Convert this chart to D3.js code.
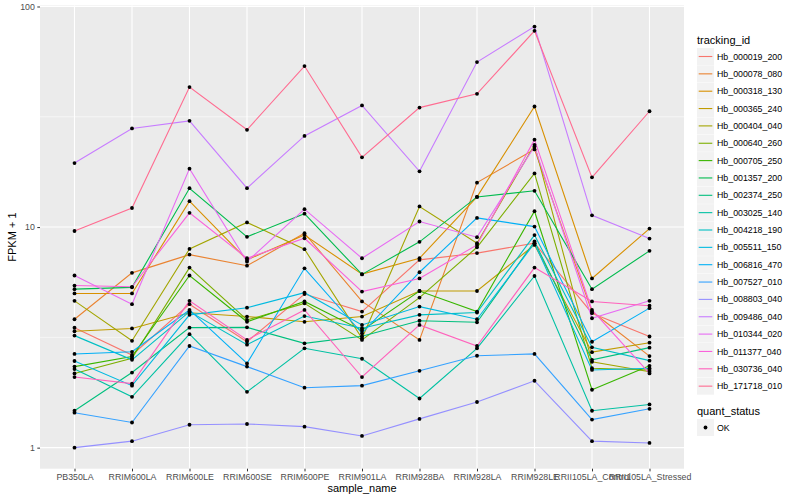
<!DOCTYPE html>
<html>
<head>
<meta charset="utf-8">
<script src="https://cdn.jsdelivr.net/npm/d3@7"></script>
<style>
  body { margin: 0; background: #ffffff; }
  text { font-family: "Liberation Sans", Arial, sans-serif; }
</style>
</head>
<body>
<svg id="chart" width="800" height="500"></svg>
<script>
// Samples on the x-axis.
const samples = [
  "PB350LA", "RRIM600LA", "RRIM600LE", "RRIM600SE", "RRIM600PE", "RRIM901LA",
  "RRIM928BA", "RRIM928LA", "RRIM928LE", "RRII105LA_Control", "RRII105LA_Stressed"
];
// Genes, one line each.
const trackingIds = [
  "Hb_000019_200", "Hb_000078_080", "Hb_000318_130", "Hb_000365_240", "Hb_000404_040",
  "Hb_000640_260", "Hb_000705_250", "Hb_001357_200", "Hb_002374_250", "Hb_003025_140",
  "Hb_004218_190", "Hb_005511_150", "Hb_006816_470", "Hb_007527_010", "Hb_008803_040",
  "Hb_009486_040", "Hb_010344_020", "Hb_011377_040", "Hb_030736_040", "Hb_171718_010"
];
// FPKM + 1 per gene (rows follow trackingIds, columns follow samples).
const fpkmPlusOne = [
  [3.50, 2.63, 4.47, 3.02, 4.97, 4.14, 7.10, 7.62, 8.45, 4.07, 3.19],
  [3.82, 6.20, 7.50, 6.68, 9.38, 4.60, 3.08, 15.9, 22.5, 4.14, 2.60],
  [5.00, 5.00, 13.1, 7.10, 9.20, 6.12, 7.22, 13.7, 35.2, 5.85, 9.84],
  [3.37, 3.47, 4.09, 3.93, 3.72, 3.93, 5.13, 5.13, 8.30, 2.71, 2.99],
  [4.63, 3.05, 7.96, 10.5, 7.94, 3.13, 12.4, 8.45, 23.6, 2.45, 2.21],
  [2.17, 2.54, 6.55, 3.79, 4.51, 3.08, 4.79, 8.10, 17.5, 2.29, 2.25],
  [2.33, 2.59, 6.03, 3.72, 4.60, 3.40, 5.13, 4.14, 11.8, 1.83, 2.35],
  [5.23, 5.33, 15.0, 9.03, 11.5, 6.10, 8.57, 13.7, 14.6, 5.23, 7.80],
  [1.47, 2.19, 3.50, 3.51, 2.97, 3.20, 3.76, 3.70, 8.60, 2.50, 2.84],
  [2.27, 1.70, 3.27, 1.79, 2.82, 2.53, 1.67, 2.82, 6.00, 1.47, 1.57],
  [3.22, 2.50, 4.14, 2.93, 3.95, 3.48, 4.00, 4.10, 9.20, 2.85, 2.48],
  [2.47, 1.91, 4.00, 4.31, 5.04, 3.60, 4.36, 3.82, 8.45, 2.25, 2.29],
  [2.66, 2.72, 4.21, 2.41, 6.50, 3.30, 6.24, 11.0, 10.05, 3.02, 4.29],
  [1.44, 1.30, 2.89, 2.33, 1.87, 1.91, 2.23, 2.61, 2.66, 1.34, 1.50],
  [1.00, 1.07, 1.27, 1.28, 1.245, 1.13, 1.35, 1.61, 2.01, 1.07, 1.05],
  [19.5, 28.0, 30.3, 15.0, 25.9, 35.6, 17.9, 56.0, 81.1, 11.3, 8.87],
  [6.03, 4.47, 18.4, 6.97, 12.05, 7.22, 10.6, 9.00, 23.2, 3.86, 4.63],
  [5.43, 5.36, 11.6, 7.22, 8.90, 5.10, 5.85, 8.30, 24.9, 4.21, 2.17],
  [2.09, 1.95, 4.63, 3.08, 4.21, 2.09, 3.60, 2.89, 6.55, 4.60, 4.40],
  [9.60, 12.2, 43.1, 27.6, 53.7, 20.7, 34.8, 40.2, 77.6, 16.8, 33.5]
];
// Status of every measurement.
const quantStatus = ["OK"];
// Default ggplot hue palette for 20 levels.
const palette = [
  "#F8766D", "#EA8331", "#D89000", "#C09B00", "#A3A500", "#7CAE00", "#39B600",
  "#00BB4E", "#00BF7D", "#00C1A3", "#00BFC4", "#00BAE0", "#00B0F6", "#35A2FF",
  "#9590FF", "#C77CFF", "#E76BF3", "#FA62DB", "#FF62BC", "#FF6C91"
];

const svg = d3.select("#chart");
const panel = { left: 40, right: 684, top: 5.5, bottom: 468.7 };

// Long format rows.
const series = trackingIds.map((id, i) => ({
  id: id,
  values: samples.map((s, j) => ({ sample: s, value: fpkmPlusOne[i][j] }))
}));
const allValues = fpkmPlusOne.flat();

// Log scale with ggplot's 5% expansion in log space.
const logExt = d3.extent(allValues).map(Math.log10);
const pad = (logExt[1] - logExt[0]) * 0.05;
const y = d3.scaleLog()
  .domain([Math.pow(10, logExt[0] - pad), Math.pow(10, logExt[1] + pad)])
  .range([panel.bottom, panel.top]);
const x = d3.scalePoint()
  .domain(samples)
  .range([panel.left, panel.right])
  .padding(0.6);
const color = d3.scaleOrdinal().domain(trackingIds).range(palette);

// Panel background.
svg.append("rect")
  .attr("x", panel.left).attr("y", panel.top)
  .attr("width", panel.right - panel.left)
  .attr("height", panel.bottom - panel.top)
  .attr("fill", "#EBEBEB");

// Minor and major grid lines.
const majorY = [1, 10, 100];
const minorY = [Math.pow(10, 0.5), Math.pow(10, 1.5)];
svg.append("g").selectAll("line").data(minorY).join("line")
  .attr("x1", panel.left).attr("x2", panel.right)
  .attr("y1", d => y(d)).attr("y2", d => y(d))
  .attr("stroke", "#ffffff").attr("stroke-width", 0.55);
svg.append("g").selectAll("line").data(majorY).join("line")
  .attr("x1", panel.left).attr("x2", panel.right)
  .attr("y1", d => y(d)).attr("y2", d => y(d))
  .attr("stroke", "#ffffff").attr("stroke-width", 1.1);
svg.append("g").selectAll("line").data(samples).join("line")
  .attr("x1", d => x(d)).attr("x2", d => x(d))
  .attr("y1", panel.top).attr("y2", panel.bottom)
  .attr("stroke", "#ffffff").attr("stroke-width", 1.1);

// Lines per gene.
const line = d3.line().x(d => x(d.sample)).y(d => y(d.value));
svg.append("g").selectAll("path").data(series).join("path")
  .attr("d", d => line(d.values))
  .attr("fill", "none")
  .attr("stroke", d => color(d.id))
  .attr("stroke-width", 1.1);

// Points on top.
svg.append("g").selectAll("circle").data(series.flatMap(d => d.values)).join("circle")
  .attr("cx", d => x(d.sample))
  .attr("cy", d => y(d.value))
  .attr("r", 1.9)
  .attr("fill", "#000000");

// Y axis.
const yAxis = svg.append("g")
  .attr("transform", `translate(${panel.left},0)`)
  .call(d3.axisLeft(y).tickValues(majorY).tickFormat(d3.format("d")).tickSize(2.7).tickPadding(2.5));
yAxis.select(".domain").remove();
yAxis.selectAll("line").attr("stroke", "#333333");
yAxis.selectAll("text").attr("fill", "#4D4D4D").attr("font-size", "8.8px");

// X axis.
const xAxis = svg.append("g")
  .attr("transform", `translate(0,${panel.bottom})`)
  .call(d3.axisBottom(x).tickSize(2.7).tickPadding(2.5));
xAxis.select(".domain").remove();
xAxis.selectAll("line").attr("stroke", "#333333");
xAxis.selectAll("text").attr("fill", "#4D4D4D").attr("font-size", "8.8px");

// Axis titles.
svg.append("text")
  .attr("x", (panel.left + panel.right) / 2)
  .attr("y", 492)
  .attr("text-anchor", "middle")
  .attr("font-size", "11px")
  .text("sample_name");
svg.append("text")
  .attr("transform", `translate(16,${(panel.top + panel.bottom) / 2}) rotate(-90)`)
  .attr("text-anchor", "middle")
  .attr("font-size", "11px")
  .text("FPKM + 1");

// Legend for tracking_id.
const legend = svg.append("g").attr("transform", "translate(697,0)");
legend.append("text")
  .attr("x", 0).attr("y", 44)
  .attr("font-size", "11px")
  .text("tracking_id");
const keys = legend.selectAll("g.key").data(trackingIds).join("g")
  .attr("class", "key")
  .attr("transform", (d, i) => `translate(0,${48 + i * 17.35})`);
keys.append("rect")
  .attr("width", 17).attr("height", 17)
  .attr("fill", "#F2F2F2");
keys.append("line")
  .attr("x1", 1.7).attr("x2", 15.3)
  .attr("y1", 8.5).attr("y2", 8.5)
  .attr("stroke", d => color(d))
  .attr("stroke-width", 1.1);
keys.append("text")
  .attr("x", 20).attr("y", 8.5)
  .attr("dy", "0.35em")
  .attr("font-size", "8.8px")
  .text(d => d);

// Legend for quant_status.
legend.append("text")
  .attr("x", 0).attr("y", 415)
  .attr("font-size", "11px")
  .text("quant_status");
const statusKeys = legend.selectAll("g.status").data(quantStatus).join("g")
  .attr("class", "status")
  .attr("transform", (d, i) => `translate(0,${419 + i * 17.35})`);
statusKeys.append("rect")
  .attr("width", 17).attr("height", 17)
  .attr("fill", "#F2F2F2");
statusKeys.append("circle")
  .attr("cx", 8.5).attr("cy", 8.5).attr("r", 1.9)
  .attr("fill", "#000000");
statusKeys.append("text")
  .attr("x", 20).attr("y", 8.5)
  .attr("dy", "0.35em")
  .attr("font-size", "8.8px")
  .text(d => d);
</script>
</body>
</html>
